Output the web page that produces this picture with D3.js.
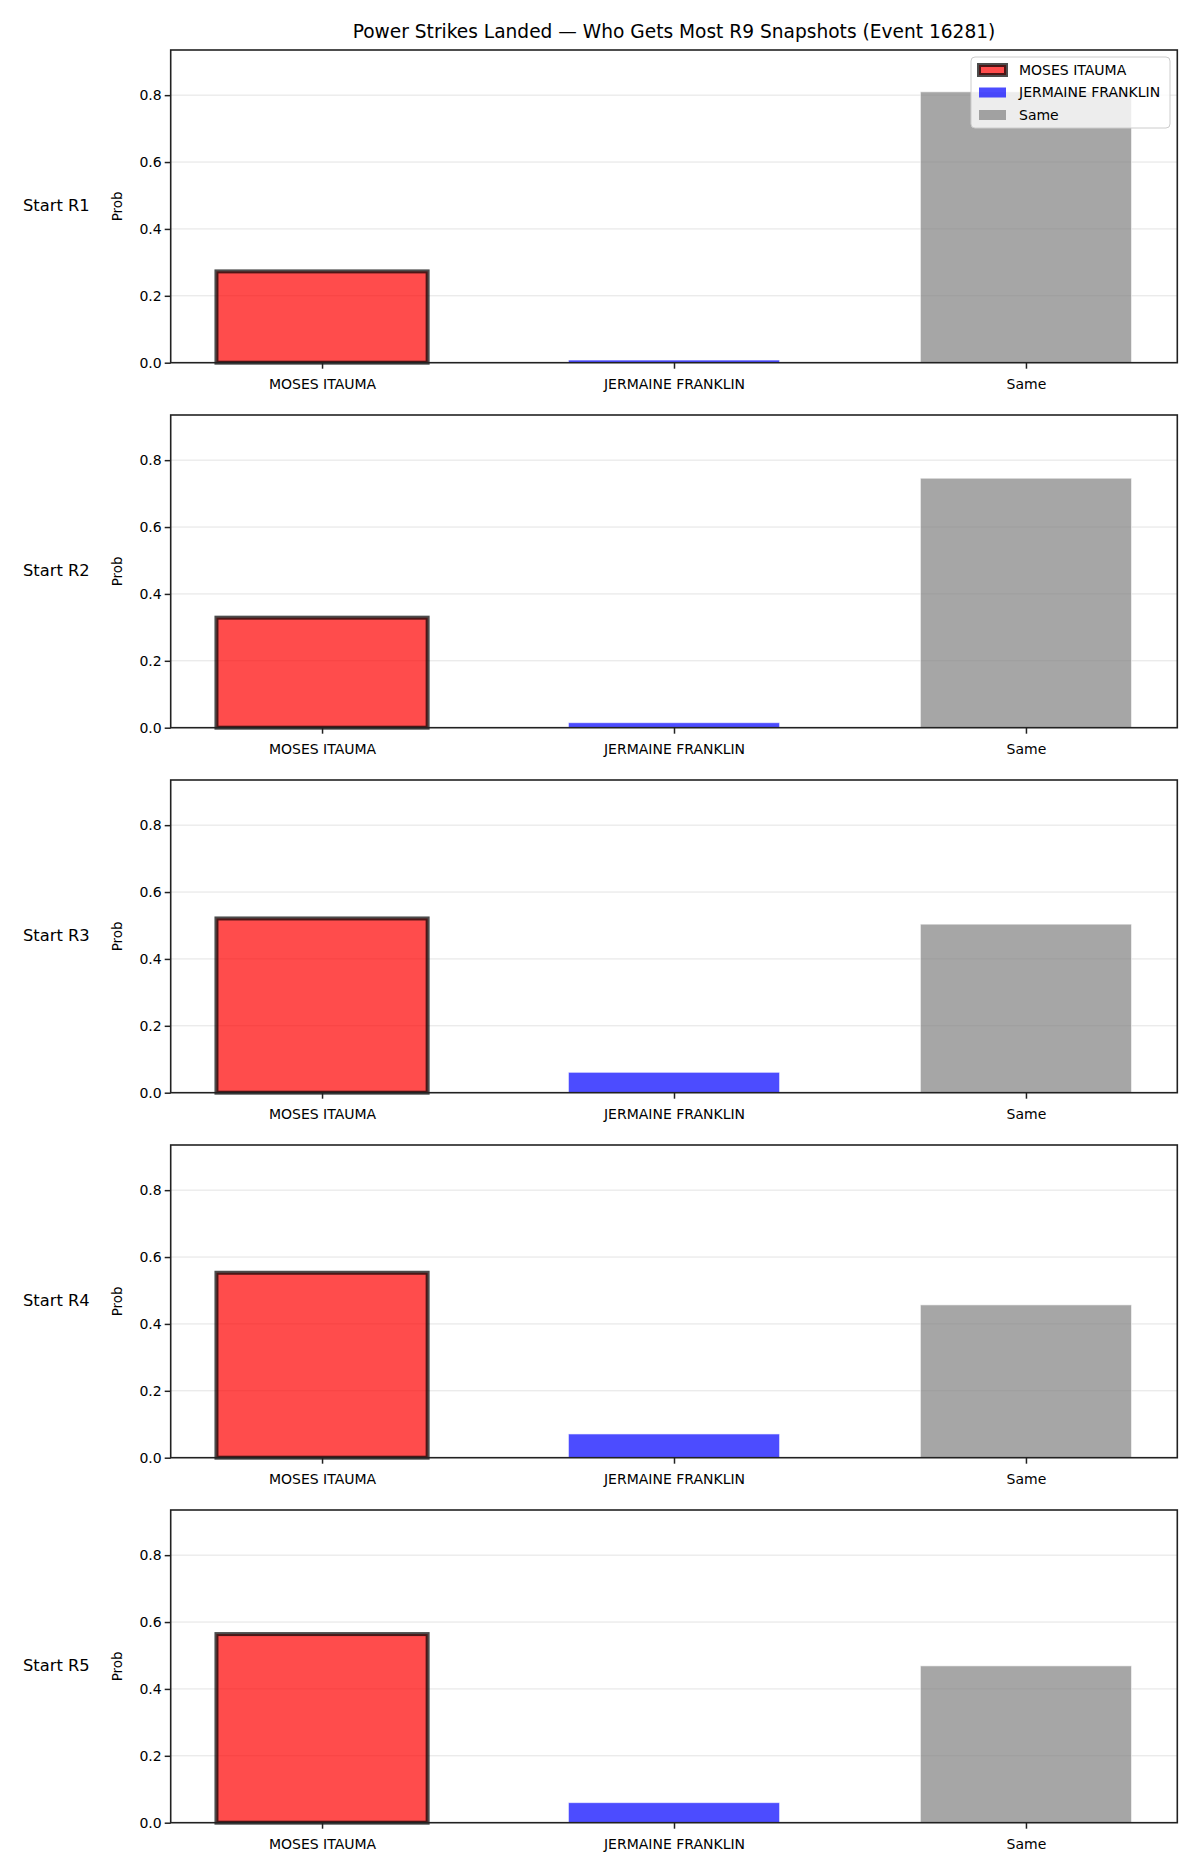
<!DOCTYPE html>
<html lang="en">
<head>
<meta charset="UTF-8">
<title>Power Strikes Landed</title>
<script src="https://cdn.jsdelivr.net/npm/d3@7"></script>
<style>
  body { margin: 0; background: #fff; }
  text { font-family: "DejaVu Sans", sans-serif; fill: #000; }
</style>
</head>
<body>
<script>
// data
var categories = ["MOSES ITAUMA", "JERMAINE FRANKLIN", "Same"];
var rounds = ["Start R1", "Start R2", "Start R3", "Start R4", "Start R5"];
var itaumaProb = [0.273, 0.329, 0.521, 0.553, 0.564];
var franklinProb = [0.008, 0.015, 0.061, 0.071, 0.060];
var sameProb = [0.810, 0.746, 0.504, 0.457, 0.469];
var yTicks = [0, 0.2, 0.4, 0.6, 0.8];
var colors = ["red", "blue", "gray"];

var width = 1200, height = 1875;
var left = 170.7, right = 1177.3;
var panelTop = 50, panelH = 312.7, panelStep = 365;

var svg = d3.select("body").append("svg")
  .attr("width", width).attr("height", height);

// title
svg.append("text")
  .attr("x", (left + right) / 2).attr("y", 37.5)
  .attr("text-anchor", "middle")
  .style("font-size", "18.6px")
  .text("Power Strikes Landed \u2014 Who Gets Most R9 Snapshots (Event 16281)");

var x = d3.scaleLinear().domain([-0.43, 2.43]).range([left, right]);
var barW = x(0.6) - x(0);

rounds.forEach(function (label, i) {
  var top = panelTop + i * panelStep;
  var bottom = top + panelH;
  var y = d3.scaleLinear().domain([0, 0.935]).range([bottom, top]);
  var vals = [itaumaProb[i], franklinProb[i], sameProb[i]];
  var g = svg.append("g");

  // grid
  g.selectAll(".grid").data(yTicks).enter().append("line")
    .attr("x1", left).attr("x2", right)
    .attr("y1", function (d) { return y(d); })
    .attr("y2", function (d) { return y(d); })
    .attr("stroke", "#e3e3e3").attr("stroke-width", 1);

  // bars
  g.selectAll(".bar").data(vals).enter().append("rect")
    .attr("x", function (d, j) { return x(j) - barW / 2; })
    .attr("width", barW)
    .attr("y", function (d) { return y(d); })
    .attr("height", function (d) { return y(0) - y(d); })
    .attr("fill", function (d, j) { return colors[j]; })
    .attr("fill-opacity", 0.7)
    .attr("stroke", function (d, j) { return j === 0 ? "#000" : "#fff"; })
    .attr("stroke-opacity", function (d, j) { return j === 0 ? 0.7 : 0.6; })
    .attr("stroke-width", function (d, j) { return j === 0 ? 4 : 1; });

  // y axis
  var yAxis = d3.axisLeft(y).tickValues(yTicks).tickFormat(d3.format(".1f"))
    .tickSize(6).tickPadding(3);
  var ya = g.append("g").attr("transform", "translate(" + left + ",0)").call(yAxis);
  ya.select(".domain").remove();
  ya.selectAll("text").style("font-size", "14px").attr("fill", "#000");
  ya.selectAll("line").attr("stroke", "#222").attr("stroke-width", 1.5);

  // x axis
  var xAxis = d3.axisBottom(x).tickValues([0, 1, 2])
    .tickFormat(function (d) { return categories[d]; })
    .tickSize(6).tickPadding(10);
  var xa = g.append("g").attr("transform", "translate(0," + bottom + ")").call(xAxis);
  xa.select(".domain").remove();
  xa.selectAll("text").style("font-size", "14px").attr("fill", "#000");
  xa.selectAll("line").attr("stroke", "#222").attr("stroke-width", 1.5);

  // frame
  g.append("rect")
    .attr("x", left).attr("y", top)
    .attr("width", right - left).attr("height", panelH)
    .attr("fill", "none").attr("stroke", "#222").attr("stroke-width", 1.6);

  // labels
  g.append("text")
    .attr("transform", "translate(122," + (top + panelH / 2) + ") rotate(-90)")
    .attr("text-anchor", "middle")
    .style("font-size", "13.5px")
    .text("Prob");
  g.append("text")
    .attr("x", 23).attr("y", top + panelH / 2 - 1)
    .attr("dy", "0.35em")
    .style("font-size", "16.3px")
    .text(label);

  // legend only in first panel
  if (i === 0) {
    var lg = g.append("g");
    lg.append("rect")
      .attr("x", 971).attr("y", 57).attr("width", 199).attr("height", 71)
      .attr("rx", 4)
      .attr("fill", "#fff").attr("fill-opacity", 0.8)
      .attr("stroke", "#ccc").attr("stroke-width", 1);
    categories.forEach(function (c, j) {
      var cy = 70 + j * 22.5;
      lg.append("rect")
        .attr("x", 979).attr("y", cy - 5).attr("width", 27).attr("height", 10)
        .attr("fill", colors[j]).attr("fill-opacity", 0.7)
        .attr("stroke", j === 0 ? "#000" : "none")
        .attr("stroke-opacity", 0.7).attr("stroke-width", 4);
      lg.append("text")
        .attr("x", 1019).attr("y", cy).attr("dy", "0.35em")
        .style("font-size", "14px")
        .text(c);
    });
  }
});
</script>
</body>
</html>
